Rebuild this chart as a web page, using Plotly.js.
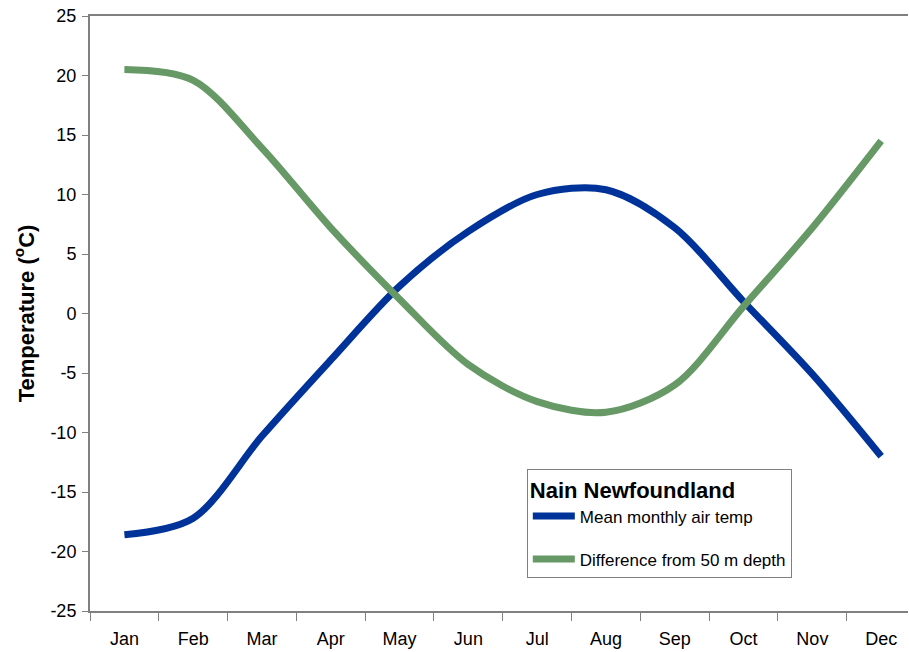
<!DOCTYPE html>
<html>
<head>
<meta charset="utf-8">
<script src="https://cdn.plot.ly/plotly-3.0.1.min.js"></script>
<style>html,body{margin:0;padding:0;background:#fff}#chart{width:909px;height:652px}</style>
</head>
<body>
<div id="chart"></div>
<script>
const months = ["Jan","Feb","Mar","Apr","May","Jun","Jul","Aug","Sep","Oct","Nov","Dec"];
const airTemp = [-18.6, -17.2, -10.3, -3.9, 2.3, 6.9, 10.0, 10.4, 7.2, 1.0, -5.1, -12.0];
const depthDiff = [20.5, 19.6, 13.9, 7.2, 1.2, -4.3, -7.4, -8.3, -6.0, 0.6, 7.2, 14.5];
const yTickValues = [-25, -20, -15, -10, -5, 0, 5, 10, 15, 20, 25];
const yTickLabels = ["-25", "-20", "-15", "-10", "-5", "0", "5", "10", "15", "20", "25"];
const legendTitle = "Nain Newfoundland";
const seriesNames = ["Mean monthly air temp", "Difference from 50 m depth"];

const traces = [
  {x: months, y: airTemp, name: seriesNames[0], legendgroup: "a", type: "scatter", mode: "lines",
   line: {color: "#003399", width: 7, shape: "spline", smoothing: 0.9}},
  {x: months, y: depthDiff, name: seriesNames[1], legendgroup: "b", type: "scatter", mode: "lines",
   line: {color: "#669966", width: 7, shape: "spline", smoothing: 0.9}}
];

const layout = {
  width: 909, height: 652,
  margin: {l: 90, r: 1, t: 16, b: 41},
  paper_bgcolor: "#fff", plot_bgcolor: "#fff",
  font: {family: "Liberation Sans, Arial, sans-serif", color: "#000", size: 18},
  showlegend: true,
  xaxis: {
    type: "category", range: [-0.5, 11.39],
    tickson: "boundaries", ticks: "outside", ticklen: 8, tickcolor: "#808080", tickwidth: 1,
    showline: true, linecolor: "#808080", linewidth: 2, mirror: true,
    showgrid: false, zeroline: false,
    tickfont: {size: 18}, ticklabelstandoff: 10, fixedrange: true
  },
  yaxis: {
    range: [-25, 25], tickmode: "array", tickvals: yTickValues, ticktext: yTickLabels,
    ticks: "outside", ticklen: 6, tickcolor: "#808080", tickwidth: 1,
    showline: true, linecolor: "#808080", linewidth: 2,
    showgrid: false, zeroline: false,
    tickfont: {size: 18}, ticklabelstandoff: 2,
    title: {text: "Temperature (<sup>o</sup>C)", font: {size: 22, family: "Liberation Sans, Arial, sans-serif", weight: "bold"}, standoff: 10}
  },
  legend: {
    x: 0.534, y: 0.239, xanchor: "left", yanchor: "top",
    bgcolor: "#fff", bordercolor: "#808080", borderwidth: 1,
    title: {text: "<b>" + legendTitle + "</b>", font: {size: 22}},
    font: {size: 17}, tracegroupgap: 18, itemwidth: 42
  }
};

Plotly.newPlot("chart", traces, layout, {displayModeBar: false, staticPlot: true});
</script>
</body>
</html>
